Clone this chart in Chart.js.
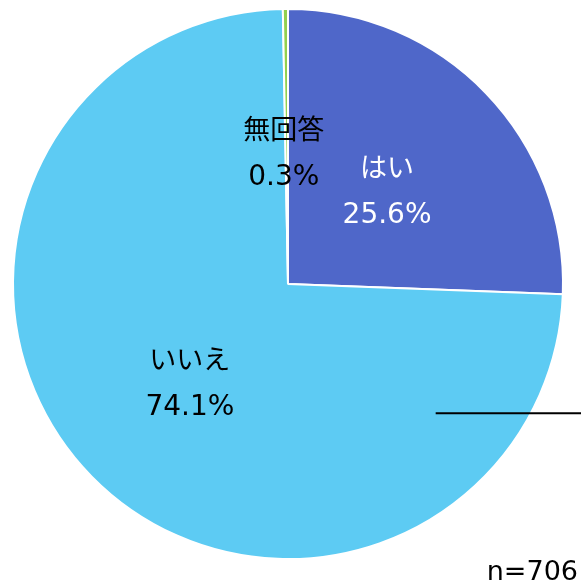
<!DOCTYPE html>
<html>
<head>
<meta charset="utf-8">
<script src="https://cdn.jsdelivr.net/npm/chart.js@4"></script>
<style>
  html, body { margin: 0; padding: 0; background: #fff; }
  .wrap { width: 581px; height: 586px; position: relative; }
</style>
</head>
<body>
<div class="wrap"><canvas id="pieChart"></canvas></div>
<script>
// データ
const labels = ['はい', 'いいえ', '無回答'];
const values = [25.6, 74.1, 0.3];
const colors = ['#4F67C9', '#5DCBF3', '#92D050'];
const labelColors = ['#ffffff', '#000000', '#000000'];
const sampleNote = 'n=706';

const JP_FONT = '"Noto Sans CJK JP", sans-serif';
const NUM_FONT = '"DejaVu Sans", sans-serif';

// ラベル描画
const sliceLabels = {
  id: 'sliceLabels',
  afterDatasetsDraw(chart) {
    const ctx = chart.ctx;
    const meta = chart.getDatasetMeta(0);
    ctx.save();
    ctx.textAlign = 'center';
    ctx.textBaseline = 'middle';
    meta.data.forEach((arc, i) => {
      const mid = (arc.startAngle + arc.endAngle) / 2;
      const r = arc.outerRadius * (i === 2 ? 0.485 : 0.5);
      const x = arc.x + Math.cos(mid) * r - (i === 2 ? 3 : 0);
      const y = arc.y + Math.sin(mid) * r;
      ctx.fillStyle = labelColors[i];
      ctx.font = '27px ' + JP_FONT;
      ctx.fillText(labels[i], x, y - 22);
      ctx.font = '28px ' + NUM_FONT;
      ctx.fillText(values[i].toFixed(1) + '%', x, y + 27);
    });

    // 右側の線と n=
    const cx = meta.data[0].x, cy = meta.data[0].y, R = meta.data[0].outerRadius;
    ctx.strokeStyle = '#000';
    ctx.lineWidth = 2;
    ctx.beginPath();
    ctx.moveTo(cx + R * 0.537, cy + R * 0.47);
    ctx.lineTo(chart.width, cy + R * 0.47);
    ctx.stroke();

    ctx.fillStyle = '#000';
    ctx.textAlign = 'right';
    ctx.textBaseline = 'alphabetic';
    ctx.font = '27px ' + NUM_FONT;
    ctx.fillText(sampleNote, chart.width - 3, chart.height - 6);
    ctx.restore();
  }
};

const ctxPie = document.getElementById('pieChart').getContext('2d');
const pieChart = new Chart(ctxPie, {
  type: 'pie',
  data: {
    labels: labels,
    datasets: [{
      data: values,
      backgroundColor: colors,
      borderColor: '#ffffff',
      borderWidth: 2
    }]
  },
  options: {
    responsive: true,
    maintainAspectRatio: false,
    animation: false,
    layout: { padding: { left: 12, top: 8, right: 17, bottom: 26 } },
    plugins: {
      legend: { display: false },
      tooltip: { enabled: false }
    }
  },
  plugins: [sliceLabels]
});
</script>
</body>
</html>
